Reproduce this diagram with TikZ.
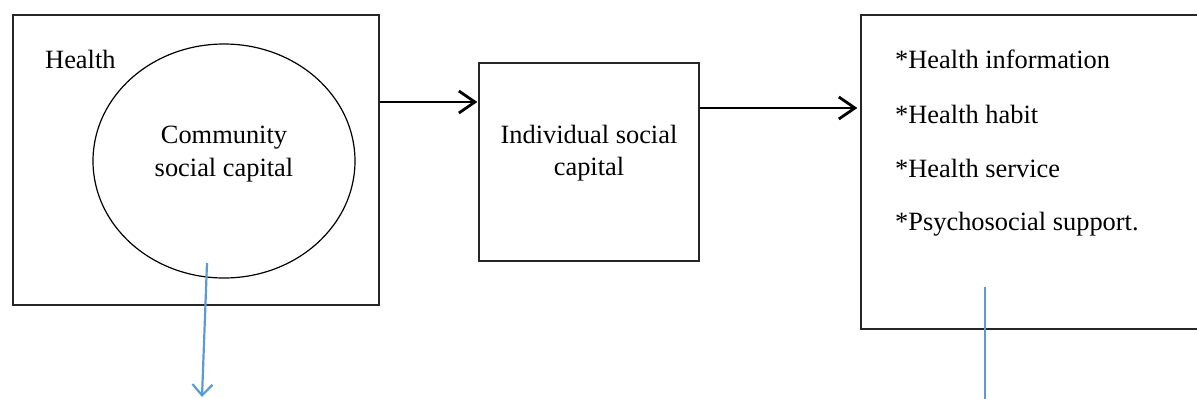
\documentclass[tikz,border=0pt]{standalone}
\usepackage{fontspec}
\setmainfont{Liberation Serif}
\usetikzlibrary{arrows.meta,shapes.geometric}
\definecolor{bluearrow}{RGB}{91,155,213}
\tikzset{
  box/.style={draw=black!85, line width=1.3pt, rectangle, inner sep=0pt},
  txt/.style={inner sep=0pt, font=\fontsize{26.4}{32}\selectfont},
  flow/.style={draw=black, line width=2.8pt, -{Straight Barb[length=16pt,width=22pt,line width=2.8pt]}},
  bluelink/.style={draw=bluearrow, line width=2.2pt, -{Straight Barb[length=11pt,width=20pt,line width=2.2pt]}},
  blueline/.style={draw=bluearrow, line width=1.1pt}
}
\begin{document}
\begin{tikzpicture}[x=1pt,y=-1pt]
\useasboundingbox (0,0) rectangle (1197,399);
% boxes
\node[box, minimum width=366pt, minimum height=290pt] (left) at (196,160) {};
\node[draw=black, line width=1.2pt, ellipse, minimum width=262pt, minimum height=234pt, inner sep=0pt] (circ) at (224,161) {};
\node[box, minimum width=220pt, minimum height=198pt] (mid) at (589,162) {};
\node[box, minimum width=340pt, minimum height=314pt] (right) at (1031,172) {};
% texts
\node[txt, anchor=base west] (health) at (45,68) {Health};
\node[txt, anchor=base] (comm1) at (224,143) {Community};
\node[txt, anchor=base] (comm2) at (224,176) {social capital};
\node[txt, anchor=base] (ind1) at (589,143) {Individual social};
\node[txt, anchor=base] (ind2) at (589,175) {capital};
\node[txt, anchor=base west] (r1) at (895,68) {*Health information};
\node[txt, anchor=base west] (r2) at (895,123) {*Health habit};
\node[txt, anchor=base west] (r3) at (895,177) {*Health service};
\node[txt, anchor=base west] (r4) at (895,230) {*Psychosocial support.};
% connectors
\coordinate (a1) at (0,102);
\coordinate (a2) at (0,108);
\draw[flow] (left.east |- a1) -- ([xshift=-1pt]mid.west |- a1);
\draw[flow] (mid.east |- a2) -- ([xshift=-3pt]right.west |- a2);
\coordinate (b1) at (207,263);
\coordinate (b2) at (202,397);
\draw[bluelink] (b1) -- (b2);
\coordinate (c1) at (985,287);
\coordinate (c2) at (985,399);
\draw[blueline] (c1) -- (c2);
\end{tikzpicture}
\end{document}
